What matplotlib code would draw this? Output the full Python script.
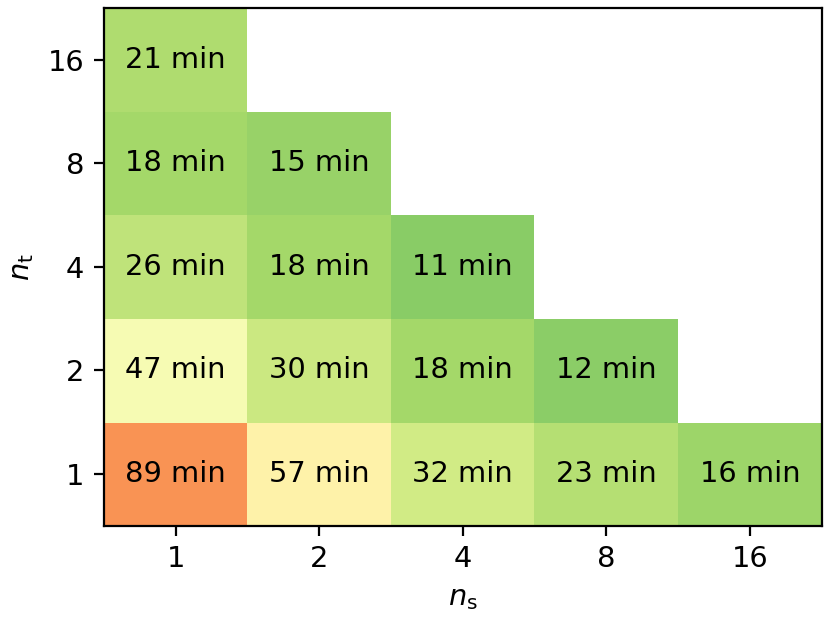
import numpy as np
import matplotlib
matplotlib.use("Agg")
import matplotlib.pyplot as plt

# wall time in minutes, rows = n_t, cols = n_s
n_s = [1, 2, 4, 8, 16]
n_t = [1, 2, 4, 8, 16]
nt1 = [89, 57, 32, 23, 16]
nt2 = [47, 30, 18, 12, np.nan]
nt4 = [26, 18, 11, np.nan, np.nan]
nt8 = [18, 15, np.nan, np.nan, np.nan]
nt16 = [21, np.nan, np.nan, np.nan, np.nan]


def main():
    times = np.array([nt1, nt2, nt4, nt8, nt16])
    masked = np.ma.masked_invalid(times)

    fig = plt.figure(figsize=(4.15, 3.115), dpi=200)
    ax = fig.add_axes([0.125, 0.156, 0.865, 0.831])
    ax.imshow(masked, cmap="RdYlGn_r", vmin=-30, vmax=131,
              origin="lower", aspect="auto")

    for i in range(len(n_t)):
        for j in range(len(n_s)):
            if not np.isnan(times[i, j]):
                ax.text(j, i, f"{int(times[i, j])} min", ha="center",
                        va="center", fontsize=10.4)

    ax.set_xticks(range(len(n_s)))
    ax.set_xticklabels([str(v) for v in n_s], fontsize=10.4)
    ax.set_yticks(range(len(n_t)))
    ax.set_yticklabels([str(v) for v in n_t], fontsize=10.4)
    ax.set_xlabel(r"$n_\mathrm{s}$", fontsize=10.4)
    ax.set_ylabel(r"$n_\mathrm{t}$", fontsize=10.4)

    fig.savefig("out.png", dpi=200)


if __name__ == "__main__":
    main()
